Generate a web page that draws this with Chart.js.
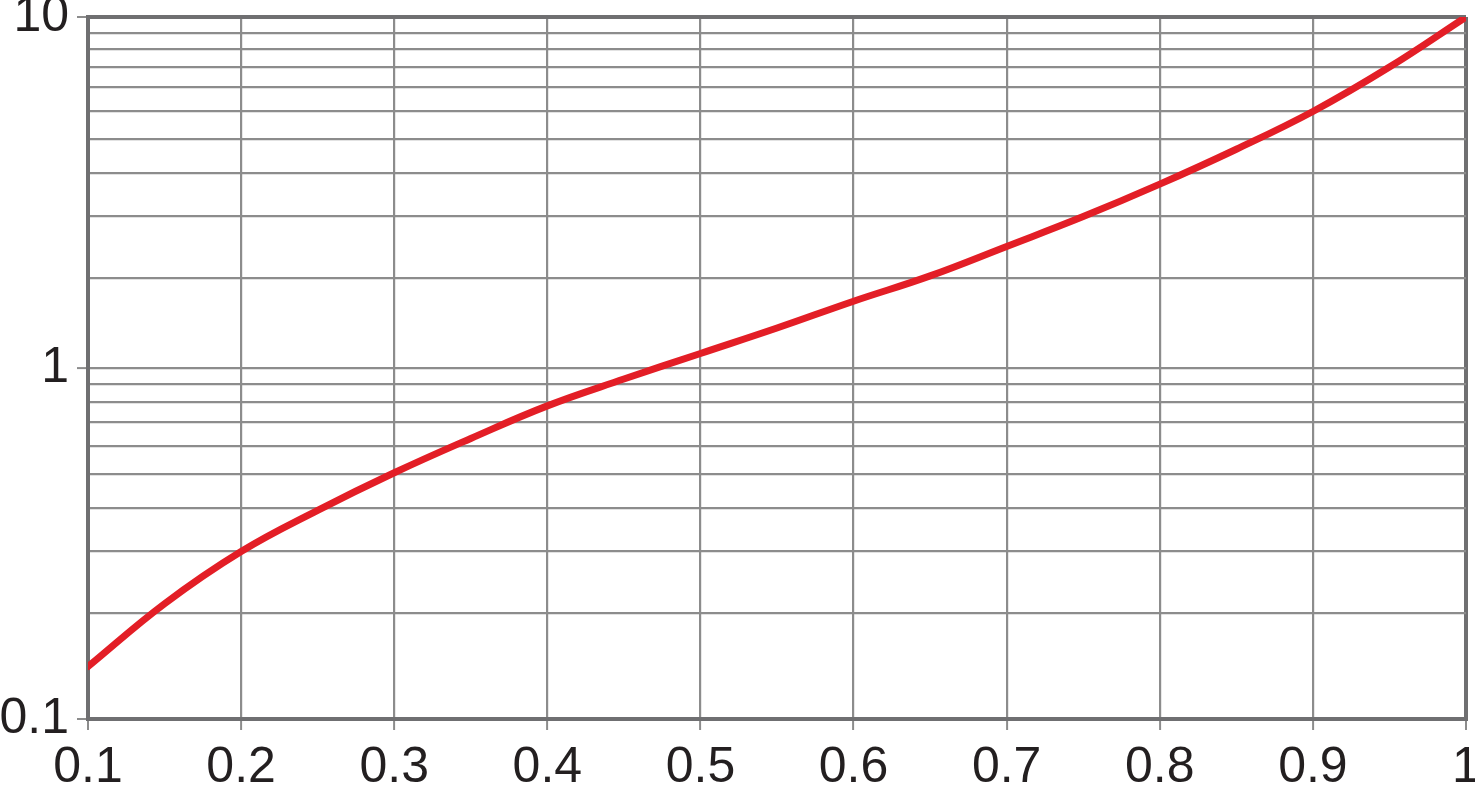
<!DOCTYPE html>
<html>
<head>
<meta charset="utf-8">
<script src="https://cdn.jsdelivr.net/npm/chart.js@4.4.1/dist/chart.umd.min.js"></script>
<style>
  html, body { margin: 0; padding: 0; background: #fff; }
  #wrap { width: 1475px; height: 787px; }
</style>
</head>
<body>
<div id="wrap"><canvas id="logChart" width="1475" height="787"></canvas></div>
<script>
// curve
const xValues = [0.1, 0.15, 0.2, 0.25, 0.3, 0.35, 0.4, 0.45, 0.5, 0.55, 0.6, 0.65, 0.7, 0.75, 0.8, 0.85, 0.9, 0.95, 1.0];
const yValues = [0.141, 0.213, 0.30, 0.393, 0.503, 0.63, 0.78, 0.93, 1.10, 1.30, 1.55, 1.83, 2.22, 2.70, 3.34, 4.20, 5.38, 7.2, 10];

// axis ticks (upper decade grid sits on multiples of 0.9 in the original)
const xTicks = [0.1, 0.2, 0.3, 0.4, 0.5, 0.6, 0.7, 0.8, 0.9, 1];
const yTicks = [0.1, 0.2, 0.3, 0.4, 0.5, 0.6, 0.7, 0.8, 0.9, 1, 1.8, 2.7, 3.6, 4.5, 5.4, 6.3, 7.2, 8.1, 9, 10];
const yLabels = [0.1, 1, 10];

const edgeColor = "#6f6f71";
const gridColor = "#8c8c8c";
const textColor = "#231f20";

const isEdge = (v, lo, hi) => Math.abs(v - lo) < 1e-9 || Math.abs(v - hi) < 1e-9;

new Chart(document.getElementById("logChart"), {
  type: "line",
  data: {
    datasets: [
      {
        data: xValues.map((x, i) => ({ x: x, y: yValues[i] })),
        borderColor: "#e31e26",
        borderWidth: 7,
        borderCapStyle: "round",
        pointRadius: 0,
        tension: 0.4,
        fill: false,
      },
    ],
  },
  options: {
    responsive: false,
    animation: false,
    layout: { padding: { top: 17, right: 9, left: 0, bottom: 0 } },
    plugins: { legend: { display: false }, tooltip: { enabled: false } },
    scales: {
      x: {
        type: "linear",
        min: 0.1,
        max: 1,
        afterBuildTicks: (scale) => {
          scale.ticks = xTicks.map((v) => ({ value: v }));
        },
        afterFit: (scale) => {
          scale.height = 68;
          scale.paddingLeft = 0;
          scale.paddingRight = 0;
        },
        border: { display: true, color: edgeColor, width: 4 },
        grid: {
          color: (ctx) => (ctx.tick && isEdge(ctx.tick.value, 0.1, 1) ? edgeColor : gridColor),
          lineWidth: (ctx) => (ctx.tick && isEdge(ctx.tick.value, 0.1, 1) ? 4 : 2.2),
          tickColor: gridColor,
          tickWidth: 2,
          tickLength: 11,
        },
        ticks: {
          autoSkip: false,
          maxRotation: 0,
          padding: 8,
          color: textColor,
          font: { family: "'Liberation Sans', Arial, sans-serif", size: 50 },
          callback: (v) => String(Number(v.toFixed(1))),
        },
      },
      y: {
        type: "logarithmic",
        min: 0.1,
        max: 10,
        afterBuildTicks: (scale) => {
          scale.ticks = yTicks.map((v) => ({ value: v }));
        },
        afterFit: (scale) => {
          scale.width = 88;
          scale.paddingTop = 0;
          scale.paddingBottom = 0;
        },
        border: { display: true, color: edgeColor, width: 4 },
        grid: {
          color: (ctx) => (ctx.tick && isEdge(ctx.tick.value, 0.1, 10) ? edgeColor : gridColor),
          lineWidth: (ctx) => (ctx.tick && isEdge(ctx.tick.value, 0.1, 10) ? 4 : 2.2),
          tickColor: (ctx) =>
            ctx.tick && yLabels.some((l) => Math.abs(l - ctx.tick.value) < 1e-9) ? gridColor : "rgba(0,0,0,0)",
          tickWidth: 2,
          tickLength: 11,
        },
        ticks: {
          autoSkip: false,
          padding: 8,
          color: textColor,
          font: { family: "'Liberation Sans', Arial, sans-serif", size: 50 },
          callback: (v) => (yLabels.some((l) => Math.abs(l - v) < 1e-9) ? String(v) : ""),
        },
      },
    },
  },
});
</script>
</body>
</html>
